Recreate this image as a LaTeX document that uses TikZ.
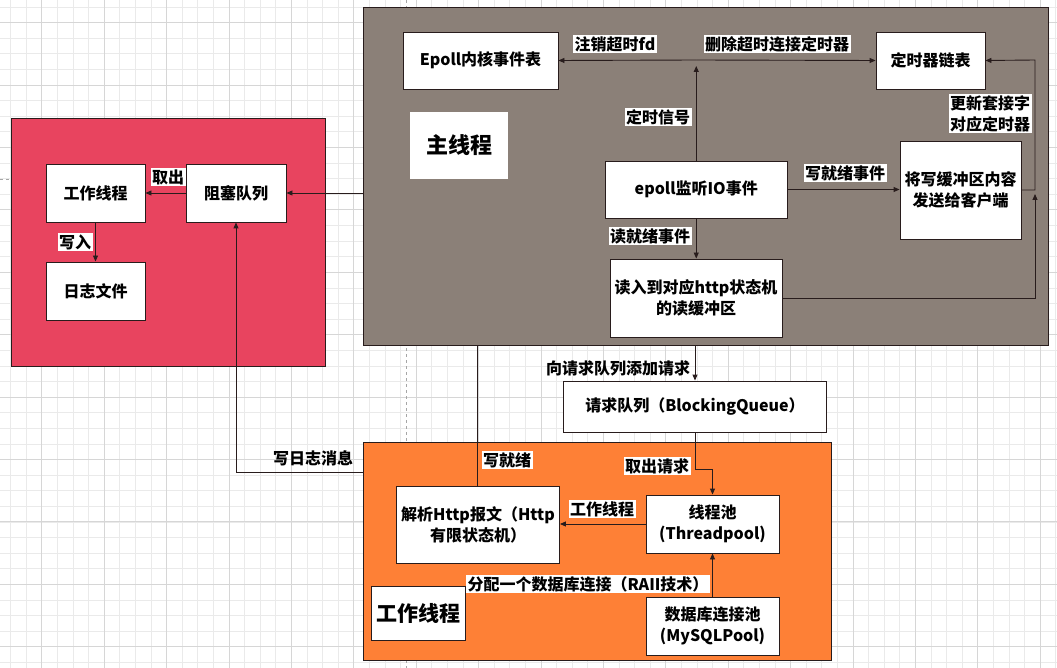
\documentclass[tikz,border=0pt]{standalone}
\usepackage{fontspec}
\setmainfont{Noto Sans CJK SC}
\usetikzlibrary{arrows.meta,calc}
\definecolor{mainc}{RGB}{139,128,120}
\definecolor{redc}{RGB}{232,68,95}
\definecolor{orc}{RGB}{254,128,54}
\definecolor{linec}{RGB}{40,28,28}
\definecolor{gmin}{RGB}{234,234,234}
\definecolor{gmaj}{RGB}{214,214,214}
\tikzset{
  box/.style={draw=linec, fill=white, line width=0.9pt, align=center, inner sep=2pt,
    font=\bfseries\fontsize{16}{21}\selectfont},
  region/.style={draw=linec, line width=0.9pt, inner sep=0pt},
  lbl/.style={fill=white, inner sep=1.5pt, align=center, font=\bfseries\fontsize{16}{21}\selectfont},
  plainlbl/.style={inner sep=1pt, font=\bfseries\fontsize{16}{21}\selectfont},
  conn/.style={draw=linec, line width=0.9pt},
  arr/.style={conn, -{Triangle[length=6pt,width=5pt]}},
}
\begin{document}
\begin{tikzpicture}[x=1pt,y=-1pt]
\useasboundingbox (0,0) rectangle (1057,668);
\fill[white] (0,0) rectangle (1057,668);
% grid
\foreach \i in {0,...,67} {\draw[gmin,line width=0.6pt] ({10.5+15.6*\i},0) -- ++(0,668);}
\foreach \j in {0,...,42} {\draw[gmin,line width=0.6pt] (0,{7+15.6*\j}) -- ++(1057,0);}
\foreach \i in {0,...,16} {\draw[gmaj,line width=0.8pt] ({41.7+62.4*\i},0) -- ++(0,668);}
\foreach \j in {0,...,10} {\draw[gmaj,line width=0.8pt] (0,{22.6+62.4*\j}) -- ++(1057,0);}
% page breaks
\draw[gray!70,dashed,line width=0.7pt] (406,0) -- (406,668);
\draw[gray!70,dashed,line width=0.7pt] (0,179) -- (11,179);

% regions
\node[region, fill=mainc, minimum width=684.4pt, minimum height=338pt] (main) at (705.8,176.4) {};
\node[region, fill=redc, minimum width=314pt, minimum height=248pt] (red) at (168,242) {};
\node[region, fill=orc, minimum width=468pt, minimum height=218pt] (orange) at (597.5,551) {};

% main thread boxes
\node[box, minimum width=155pt, minimum height=57pt] (epolltab) at (480.5,60.5) {Epoll内核事件表};
\node[box, minimum width=109pt, minimum height=57pt] (timer) at (930.5,60.5) {定时器链表};
\node[box, minimum width=98pt, minimum height=67pt, draw=none, font=\bfseries\fontsize{22}{27}\selectfont] (mainlbl) at (459,145.5) {主线程};
\node[box, minimum width=181.5pt, minimum height=57pt] (epoll) at (696.25,189.5) {epoll监听IO事件};
\node[box, minimum width=121pt, minimum height=98pt] (send) at (960.5,190) {将写缓冲区内容\\发送给客户端};
\node[box, minimum width=172pt, minimum height=78pt] (read) at (696,298) {读入到对应http状态机\\的读缓冲区};

% log boxes
\node[box, minimum width=99pt, minimum height=58pt] (logw) at (95.5,193) {工作线程};
\node[box, minimum width=100pt, minimum height=58pt] (bq) at (236,193) {阻塞队列};
\node[box, minimum width=99pt, minimum height=58pt] (logf) at (95.5,291) {日志文件};

% worker boxes
\node[box, minimum width=263pt, minimum height=51pt] (rq) at (695,406.5) {请求队列（BlockingQueue）};
\node[box, minimum width=163pt, minimum height=77pt] (parse) at (478,524.5) {解析Http报文（Http\\有限状态机）};
\node[box, minimum width=133pt, minimum height=58pt] (pool) at (712.5,524) {线程池\\(Threadpool)};
\node[box, minimum width=133pt, minimum height=58pt] (sql) at (712.5,626) {数据库连接池\\(MySQLPool)};
\node[box, minimum width=94pt, minimum height=54pt, font=\bfseries\fontsize{21}{26}\selectfont] (wlbl) at (418,613) {工作线程};

% coordinates
\coordinate (J) at (696.25,60);
\coordinate (R1) at (1035,298);
\coordinate (R2) at (1035,194);
\coordinate (S1) at (1035,190);
\coordinate (S2) at (1035,60);
\coordinate (L1) at (236,472);
\coordinate (Q1) at (695,469);
\coordinate (Q2) at (712.5,469);

% main connectors
\draw[arr] (epoll.north) -- ($(J)+(0,6)$);
\draw[arr] (J) -- (epolltab.east);
\draw[arr] (J) -- (timer.west);
\draw[arr] (epoll.east) -- (send.west |- epoll.east);
\draw[arr] (epoll.south) -- (read.north -| epoll.south);
\draw[arr] (read.east) -- (R1) -- (R2);
\draw[arr] (send.east) -- (S1) -- (S2) -- (timer.east);

% log connectors
\draw[arr] (main.west |- bq.east) -- (bq.east);
\draw[arr] (bq.west) -- (logw.east);
\draw[arr] (logw.south) -- (logf.north);
\draw[arr] (orange.west |- L1) -- (L1) -- (bq.south);

% worker connectors
\draw[arr] (main.south -| rq.north) -- (rq.north);
\draw[arr] (rq.south) -- (Q1) -- (Q2) -- (pool.north);
\draw[conn] (parse.north -| 477,0) -- (main.south -| 477,0);
\draw[arr] (pool.west |- 0,524) -- (parse.east |- 0,524);
\draw[arr] (sql.north) -- (pool.south);

% labels
\node[lbl] (l1) at (615,44) {注销超时fd};
\node[lbl] (l2) at (777,44) {删除超时连接定时器};
\node[lbl] (l3) at (658,117) {定时信号};
\node[lbl] (l4) at (990,113.5) {更新套接字\\对应定时器};
\node[lbl] (l5) at (845,173) {写就绪事件};
\node[lbl] (l6) at (650,236) {读就绪事件};
\node[lbl] (l7) at (168,177) {取出};
\node[lbl] (l8) at (75,242) {写入};
\node[plainlbl] (l9) at (313,458) {写日志消息};
\node[plainlbl] (l10) at (618,368) {向请求队列添加请求};
\node[lbl] (l11) at (657,466) {取出请求};
\node[lbl] (l12) at (507,460) {写就绪};
\node[lbl] (l13) at (602,509) {工作线程};
\node[lbl] (l14) at (588,584) {分配一个数据库连接（RAII技术）};
\end{tikzpicture}
\end{document}
